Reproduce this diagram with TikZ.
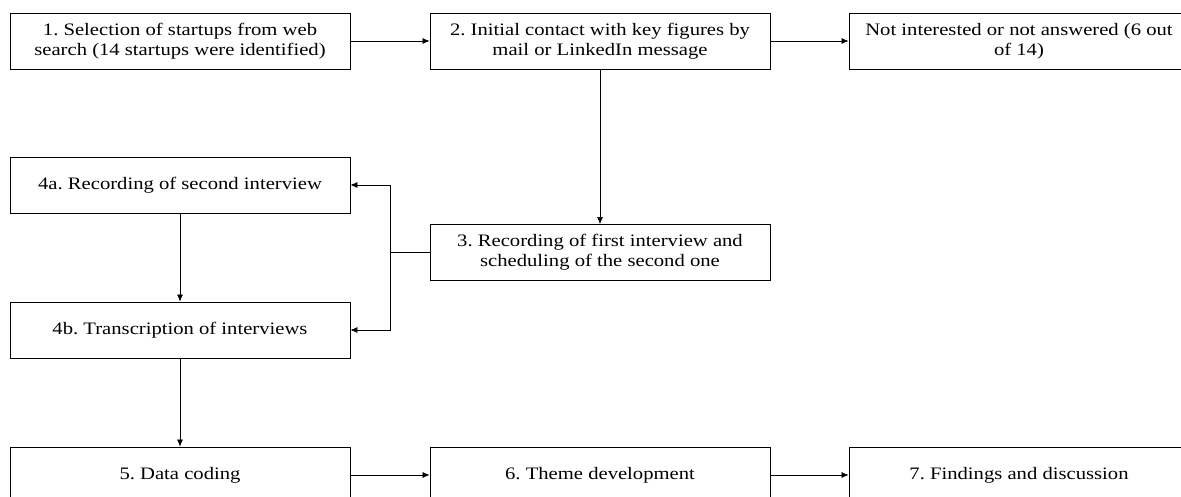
\documentclass[tikz,border=0pt]{standalone}
\usepackage{fontspec}
\setmainfont[FakeStretch=1.18]{Liberation Serif}
\usetikzlibrary{arrows.meta}
\frenchspacing

\begin{document}
\begin{tikzpicture}[x=1pt, y=-1pt,
    every node/.style={font=\fontsize{17.5}{20}\selectfont},
    stage/.style={draw, line width=0.9pt, minimum width=340pt, minimum height=56pt, align=center, inner sep=0pt},
    flow/.style={-{Latex[length=7pt,width=6pt]}, line width=0.6pt}]
\clip (0,0) rectangle (1181,497);
% Contacto inicial
\node[stage] (S1) at (180,41) {1. Selection of startups from web\\search (14 startups were identified)};
\node[stage] (S2) at (600,41) {2. Initial contact with key figures by\\mail or LinkedIn message};
\node[stage] (N) at (1019,41) {Not interested or not answered (6 out\\of 14)};
% Entrevistas
\node[stage] (S4a) at (180,185) {4a. Recording of second interview};
\node[stage] (S3) at (600,252.5) {3. Recording of first interview and\\scheduling of the second one};
\node[stage] (S4b) at (180,330) {4b. Transcription of interviews};
% Analise
\node[stage] (S5) at (180,475) {5. Data coding};
\node[stage] (S6) at (600,475) {6. Theme development};
\node[stage] (S7) at (1019,475) {7. Findings and discussion};
% Conexoes
\coordinate (J) at (390,252.5);
\draw[flow] (S1) -- (S2);
\draw[flow] (S2) -- (N);
\draw[flow] (S2) -- (S3);
\draw[line width=0.6pt] (S3.west) -- (J);
\draw[flow] (J) |- (S4a.east);
\draw[flow] (J) |- (S4b.east);
\draw[flow] (S4a) -- (S4b);
\draw[flow] (S4b) -- (S5);
\draw[flow] (S5) -- (S6);
\draw[flow] (S6) -- (S7);
\end{tikzpicture}
\end{document}
